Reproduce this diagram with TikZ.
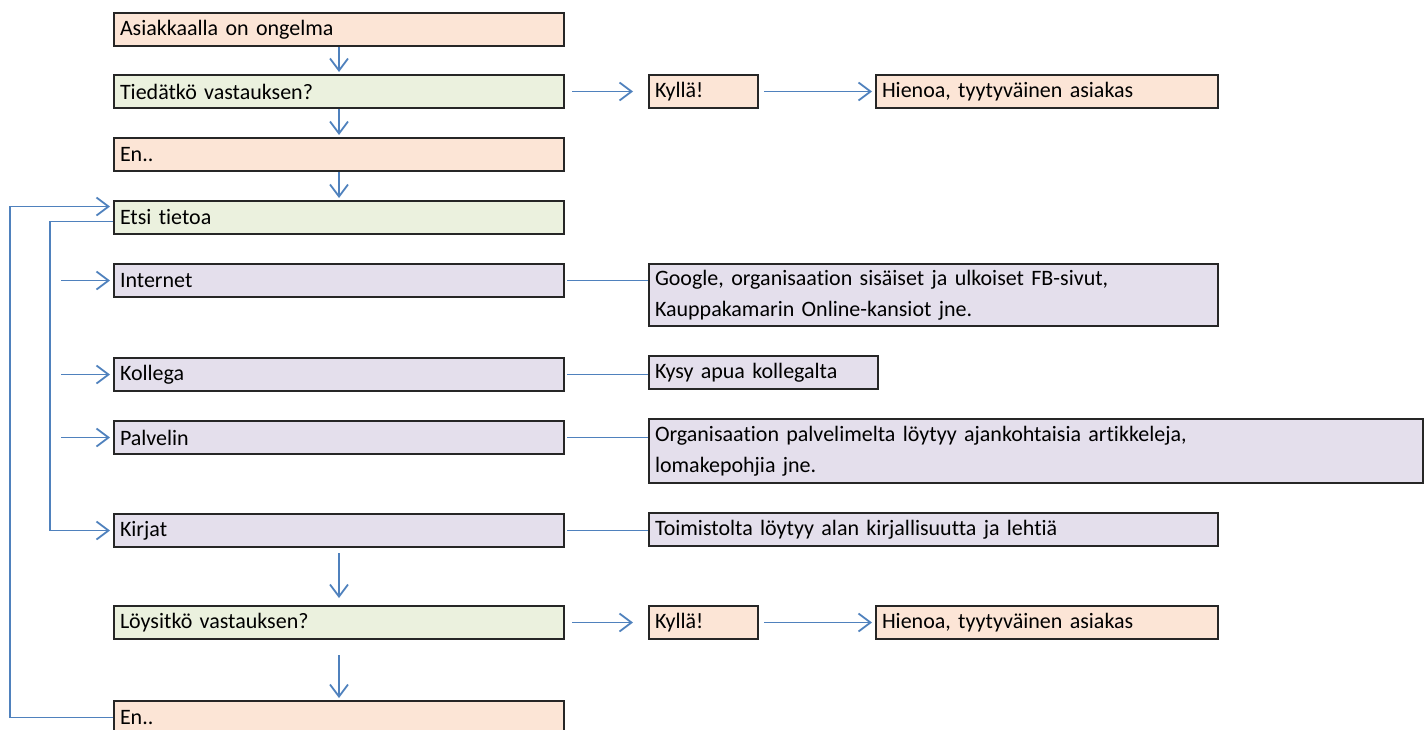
\documentclass[tikz,border=0pt]{standalone}
\usepackage{fontspec}
\setmainfont{Carlito}[Ligatures=NoCommon]
\usetikzlibrary{arrows.meta}
\definecolor{peach}{RGB}{252,229,214}
\definecolor{paleGreen}{RGB}{235,241,222}
\definecolor{lavender}{RGB}{228,223,236}
\definecolor{flowBlue}{RGB}{79,129,189}
\begin{document}
\begin{tikzpicture}[x=0.5pt,y=-0.5pt,
    box/.style={draw=black!85, line width=1pt, anchor=north west, inner xsep=3pt, inner ysep=0pt,
                align=left, minimum height=16.5pt, font=\fontsize{11}{15.5}\selectfont},
    mainbox/.style={box, text width=219pt},
    flow/.style={draw=flowBlue, line width=0.9pt, -{Straight Barb[length=6pt,width=9pt]}, shorten >=1pt},
    link/.style={draw=flowBlue, line width=0.9pt, shorten <=1pt}]
  \useasboundingbox (0,0) rectangle (1428,729);
  \clip (0,0) rectangle (1428,729);
  % left column
  \node[mainbox, fill=peach] (ongelma) at (113,12) {Asiakkaalla on ongelma};
  \node[mainbox, fill=paleGreen] (tiedatko) at (113,74) {Tiedätkö vastauksen?};
  \node[mainbox, fill=peach] (en1) at (113,137) {En..};
  \node[mainbox, fill=paleGreen] (etsi) at (113,200) {Etsi tietoa};
  \node[mainbox, fill=lavender] (internet) at (113,263) {Internet};
  \node[mainbox, fill=lavender] (kollega) at (113,357) {Kollega};
  \node[mainbox, fill=lavender] (palvelin) at (113,420) {Palvelin};
  \node[mainbox, fill=lavender] (kirjat) at (113,513) {Kirjat};
  \node[mainbox, fill=paleGreen] (loysitko) at (113,605) {Löysitkö vastauksen?};
  \node[mainbox, fill=peach] (en2) at (113,700) {En..};
  % right side
  \node[box, fill=peach, text width=48.5pt] (kylla1) at (648,74) {Kyllä!};
  \node[box, fill=peach, text width=165pt] (hienoa1) at (875,74) {Hienoa, tyytyväinen asiakas};
  \node[box, fill=lavender, text width=278.5pt, minimum height=31pt] (google) at (648,263)
    {Google, organisaation sisäiset ja ulkoiset FB-sivut,\\Kauppakamarin Online-kansiot jne.};
  \node[box, fill=lavender, text width=108.5pt] (kysy) at (648,355) {Kysy apua kollegalta};
  \node[box, fill=lavender, text width=381pt, minimum height=32pt] (organisaatio) at (648,418)
    {Organisaation palvelimelta löytyy ajankohtaisia artikkeleja,\\lomakepohjia jne.};
  \node[box, fill=lavender, text width=278.5pt] (toimisto) at (648,512) {Toimistolta löytyy alan kirjallisuutta ja lehtiä};
  \node[box, fill=peach, text width=48.5pt] (kylla2) at (648,605) {Kyllä!};
  \node[box, fill=peach, text width=165pt] (hienoa2) at (875,605) {Hienoa, tyytyväinen asiakas};
  % arrows
  \draw[flow] (ongelma) -- (tiedatko);
  \draw[flow] (tiedatko) -- (en1);
  \draw[flow] (en1) -- (etsi);
  \draw[flow, shorten <=3.5pt, shorten >=7.5pt] (tiedatko) -- (kylla1);
  \draw[flow, shorten <=2.5pt, shorten >=1.5pt] (kylla1) -- (hienoa1);
  \draw[flow, shorten <=2.5pt, shorten >=3.5pt] (kirjat) -- (loysitko);
  \draw[flow, shorten <=3.5pt, shorten >=7.5pt] (loysitko) -- (kylla2);
  \draw[flow, shorten <=2.5pt, shorten >=1.5pt] (kylla2) -- (hienoa2);
  \draw[flow, shorten <=7.5pt] (loysitko) -- (en2);
  \draw[flow, shorten >=1.5pt] ([yshift=-2pt]etsi.west) -- ++(-63,0) |- (kirjat.west);
  \foreach \n in {internet,kollega,palvelin}
    \draw[flow, shorten >=1.5pt] ([xshift=-26pt]\n.west) -- (\n.west);
  \draw[flow, shorten >=1.5pt] (en2.west) -- ++(-103,0) |- ([yshift=5.5pt]etsi.west);
  \foreach \a/\b in {internet/google,kollega/kysy,palvelin/organisaatio,kirjat/toimisto}
    \draw[link] (\a.east) -- (\a.east -| \b.west);
\end{tikzpicture}
\end{document}
